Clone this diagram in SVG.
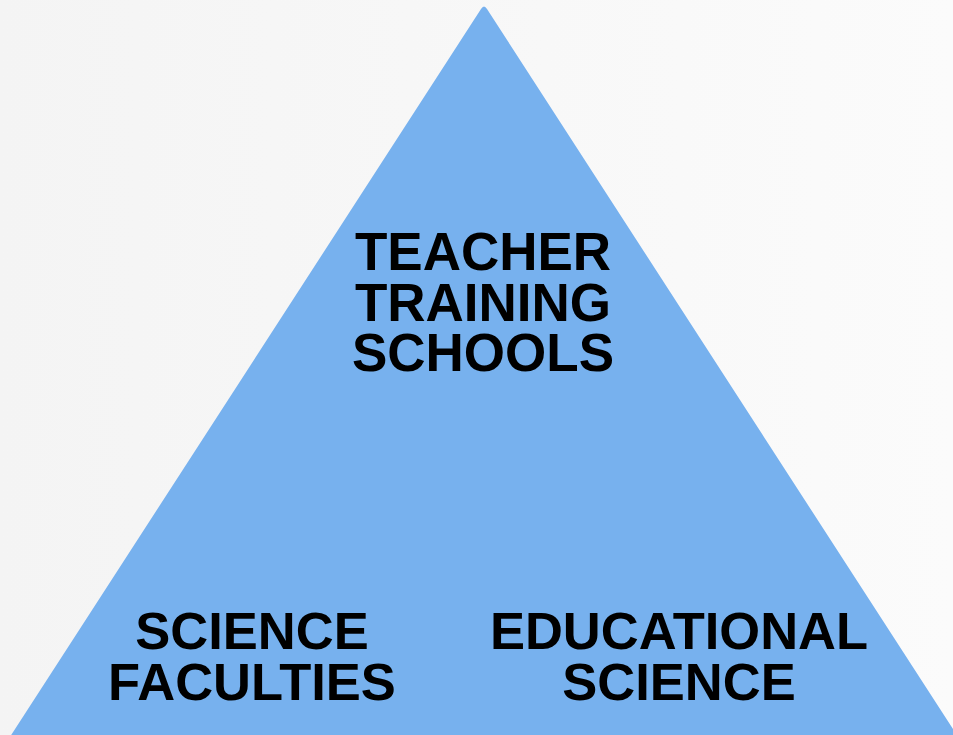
<svg xmlns="http://www.w3.org/2000/svg" width="953" height="735" viewBox="0 0 953 735">
  <defs>
    <linearGradient id="bg" x1="0" y1="0" x2="1" y2="0">
      <stop offset="0" stop-color="#f4f4f4"/>
      <stop offset="1" stop-color="#fbfbfb"/>
    </linearGradient>
  </defs>
  <style>
    .tri { fill: #77b1ee; }
    .lbl { font-family: "Liberation Sans", Arial, sans-serif; font-weight: bold; fill: #000; text-anchor: middle; }
    .top { font-size: 53px; }
    .bot { font-size: 52.5px; }
  </style>
  <rect x="0" y="0" width="953" height="735" fill="url(#bg)"/>
  <g id="triangle">
    <path class="tri" d="M481,9 Q484,4 487,9 L973,760 L-5,760 Z"/>
  </g>
  <g id="teacher-training-schools">
    <text class="lbl top" x="483" y="270">TEACHER</text>
    <text class="lbl top" x="483" y="320.5">TRAINING</text>
    <text class="lbl top" x="483" y="371">SCHOOLS</text>
  </g>
  <g id="science-faculties">
    <text class="lbl bot" x="252" y="649">SCIENCE</text>
    <text class="lbl bot" x="252" y="700">FACULTIES</text>
  </g>
  <g id="educational-science">
    <text class="lbl bot" x="679" y="649">EDUCATIONAL</text>
    <text class="lbl bot" x="679" y="700">SCIENCE</text>
  </g>
  <g id="connectors"/>
</svg>
